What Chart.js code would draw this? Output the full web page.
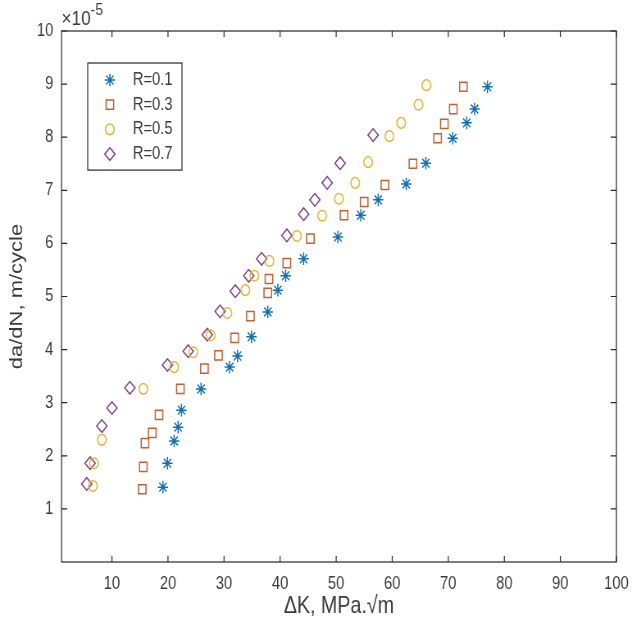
<!DOCTYPE html>
<html>
<head>
<meta charset="utf-8">
<title>da/dN vs ΔK</title>
<script src="https://cdn.jsdelivr.net/npm/chart.js@4.4.0/dist/chart.umd.min.js"></script>
<style>
  html, body { margin: 0; padding: 0; background: #fff; overflow: hidden; width: 632px; height: 632px; }
  /* figure is drawn wide and squeezed horizontally */
  #plot { position: absolute; left: 0; top: 0; width: 771px; height: 632px; transform: scaleX(0.8197); transform-origin: 0 0; }
</style>
</head>
<body>
<div id="plot"><canvas id="crackChart" width="771" height="632"></canvas></div>
<script>
// Crack growth rate da/dN (in units of 1e-5 m/cycle) against ΔK for four stress ratios
const ratios = ['R=0.1', 'R=0.3', 'R=0.5', 'R=0.7'];

const deltaK_R01 = [19.1, 19.9, 21.1, 21.8, 22.4, 25.9, 31.0, 32.4, 34.9, 37.8, 39.6, 41.0, 44.2, 50.3, 54.4, 57.5, 62.5, 66.0, 70.8, 73.3, 74.7, 77.0];
const rate_R01   = [1.41, 1.86, 2.28, 2.54, 2.86, 3.26, 3.67, 3.88, 4.24, 4.71, 5.12, 5.39, 5.71, 6.12, 6.53, 6.82, 7.12, 7.51, 7.98, 8.27, 8.53, 8.95];

const deltaK_R03 = [15.4, 15.6, 15.9, 17.2, 18.4, 22.2, 26.5, 29.0, 31.9, 34.7, 37.8, 38.0, 41.2, 45.4, 51.4, 55.0, 58.7, 63.7, 68.1, 69.3, 70.9, 72.7];
const rate_R03   = [1.37, 1.79, 2.24, 2.43, 2.77, 3.26, 3.64, 3.89, 4.22, 4.63, 5.07, 5.33, 5.63, 6.09, 6.53, 6.78, 7.10, 7.50, 7.98, 8.25, 8.53, 8.95];

const deltaK_R05 = [6.6, 6.8, 8.2, 15.6, 21.1, 24.5, 27.6, 30.6, 33.8, 35.4, 38.1, 43.0, 47.5, 50.5, 53.4, 55.7, 59.5, 61.6, 64.7, 66.1];
const rate_R05   = [1.43, 1.86, 2.30, 3.26, 3.67, 3.95, 4.27, 4.69, 5.12, 5.39, 5.67, 6.14, 6.52, 6.84, 7.14, 7.53, 8.02, 8.27, 8.61, 8.98];

const deltaK_R07 = [5.5, 6.1, 8.2, 10.0, 13.2, 19.9, 23.6, 27.0, 29.3, 32.0, 34.4, 36.7, 41.2, 44.2, 46.2, 48.4, 50.7, 56.6];
const rate_R07   = [1.47, 1.86, 2.56, 2.90, 3.28, 3.71, 3.97, 4.28, 4.72, 5.10, 5.39, 5.71, 6.15, 6.55, 6.82, 7.14, 7.51, 8.04];

const xTicks = [10, 20, 30, 40, 50, 60, 70, 80, 90, 100];
const yTicks = [1, 2, 3, 4, 5, 6, 7, 8, 9, 10];
const yExponent = '-5';

const axisColor = '#262626';
const textColor = '#3a3a3a';
const fontFamily = '"Liberation Sans", Arial, Helvetica, sans-serif';

function toPoints(xs, ys) {
    return xs.map((x, i) => ({ x: x, y: ys[i] }));
}

const datasets = [
    { label: ratios[0], data: toPoints(deltaK_R01, rate_R01), borderColor: '#1270B2', pointStyle: 'star', pointRadius: 6.3 },
    { label: ratios[1], data: toPoints(deltaK_R03, rate_R03), borderColor: '#C55E30', pointStyle: 'rect', pointRadius: 6.5 },
    { label: ratios[2], data: toPoints(deltaK_R05, rate_R05), borderColor: '#E4B42C', pointStyle: 'circle', pointRadius: 5.3 },
    { label: ratios[3], data: toPoints(deltaK_R07, rate_R07), borderColor: '#80428F', pointStyle: 'rectRot', pointRadius: 6.3 }
].map(ds => Object.assign(ds, {
    backgroundColor: 'rgba(0,0,0,0)',
    borderWidth: 1.5,
    pointHoverRadius: ds.pointRadius,
    showLine: false
}));

// Box around the axes with inward tick marks on all four sides
const boxPlugin = {
    id: 'axesBox',
    afterDatasetsDraw(chart) {
        const { ctx, chartArea: a, scales: { x, y } } = chart;
        ctx.save();
        ctx.strokeStyle = axisColor;
        ctx.lineWidth = 1.2;
        ctx.beginPath();
        x.ticks.forEach(t => {
            const px = x.getPixelForValue(t.value);
            ctx.moveTo(px, a.bottom); ctx.lineTo(px, a.bottom - 6);
            ctx.moveTo(px, a.top); ctx.lineTo(px, a.top + 6);
        });
        y.ticks.forEach(t => {
            const py = y.getPixelForValue(t.value);
            ctx.moveTo(a.left, py); ctx.lineTo(a.left + 7, py);
            ctx.moveTo(a.right, py); ctx.lineTo(a.right - 7, py);
        });
        ctx.stroke();
        ctx.strokeRect(a.left, a.top, a.right - a.left, a.bottom - a.top);

        // exponent of the y axis
        ctx.fillStyle = textColor;
        ctx.textBaseline = 'alphabetic';
        ctx.textAlign = 'left';
        ctx.font = '21px ' + fontFamily;
        ctx.fillText('\u00d710', a.left, 25);
        const w = ctx.measureText('\u00d710').width;
        ctx.font = '17px ' + fontFamily;
        ctx.fillText(yExponent, a.left + w, 15);
        ctx.restore();
    }
};

// Legend in the upper left corner of the axes
const legendPlugin = {
    id: 'boxLegend',
    afterDraw(chart) {
        const { ctx, chartArea: a } = chart;
        const left = a.left + 32, top = a.top + 32;
        const width = 115, rowH = 24.7;
        const sets = chart.data.datasets;
        const height = 17 + rowH * (sets.length - 1) + 16;
        ctx.save();
        ctx.fillStyle = '#fff';
        ctx.fillRect(left, top, width, height);
        ctx.strokeStyle = axisColor;
        ctx.lineWidth = 1.2;
        ctx.strokeRect(left, top, width, height);
        sets.forEach((ds, i) => {
            const cy = top + 17 + i * rowH;
            ctx.strokeStyle = ds.borderColor;
            ctx.fillStyle = 'rgba(0,0,0,0)';
            ctx.lineWidth = ds.borderWidth;
            Chart.helpers.drawPoint(ctx, {
                pointStyle: ds.pointStyle,
                radius: ds.pointRadius,
                rotation: 0,
                borderWidth: ds.borderWidth
            }, left + 27, cy);
            ctx.fillStyle = textColor;
            ctx.font = '18px ' + fontFamily;
            ctx.textAlign = 'left';
            ctx.textBaseline = 'middle';
            ctx.fillText(ds.label, left + 55, cy);
        });
        ctx.restore();
    }
};

new Chart(document.getElementById('crackChart'), {
    type: 'scatter',
    data: { datasets },
    options: {
        responsive: false,
        animation: false,
        events: [],
        layout: { padding: { left: 0, top: 31, right: 19, bottom: 0 } },
        scales: {
            x: {
                type: 'linear',
                min: 1,
                max: 100,
                afterFit(scale) {
                    scale.height = 70;
                    // the "100" label may hang over the right padding
                    scale.paddingLeft = 0;
                    scale.paddingRight = 0;
                },
                afterBuildTicks(scale) { scale.ticks = xTicks.map(v => ({ value: v })); },
                grid: { display: false, drawTicks: false },
                border: { display: false },
                ticks: {
                    color: textColor,
                    font: { family: fontFamily, size: 18 },
                    padding: 11,
                    maxRotation: 0,
                    autoSkip: false
                },
                title: {
                    display: true,
                    text: 'ΔK, MPa.√m',
                    color: textColor,
                    font: { family: fontFamily, size: 24 },
                    padding: { top: 0, bottom: 11 }
                }
            },
            y: {
                type: 'linear',
                min: 0,
                max: 10,
                afterFit(scale) { scale.width = 75; },
                afterBuildTicks(scale) { scale.ticks = yTicks.map(v => ({ value: v })); },
                grid: { display: false, drawTicks: false },
                border: { display: false },
                ticks: {
                    color: textColor,
                    font: { family: fontFamily, size: 18 },
                    padding: 10,
                    autoSkip: false
                },
                title: {
                    display: true,
                    text: 'da/dN, m/cycle',
                    color: textColor,
                    font: { family: fontFamily, size: 22 },
                    padding: { top: 8, bottom: 0 }
                }
            }
        },
        plugins: {
            legend: { display: false },
            tooltip: { enabled: false }
        }
    },
    plugins: [boxPlugin, legendPlugin]
});
</script>
</body>
</html>
